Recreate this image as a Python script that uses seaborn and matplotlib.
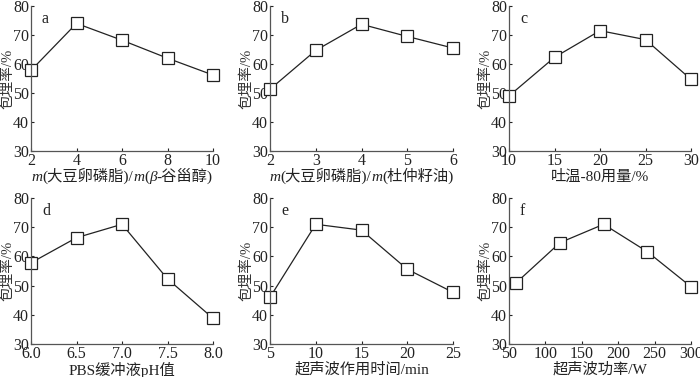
import matplotlib
matplotlib.use("Agg")
import matplotlib.pyplot as plt
import seaborn as sns
import pandas as pd
from matplotlib.offsetbox import TextArea, HPacker, AnchoredOffsetbox

sns.set_style("ticks")
FAM = ['Liberation Serif', 'Noto Sans CJK SC']
plt.rcParams['font.family'] = FAM

# data
xa = [2, 4, 6, 8, 10]
ya = [57.8, 74.0, 68.2, 62.0, 56.2]
xb = [2, 3, 4, 5, 6]
yb = [51.3, 64.7, 73.7, 69.5, 65.5]
xc = [10, 15, 20, 25, 30]
yc = [49.0, 62.3, 71.5, 68.4, 54.7]
xd = [6.0, 6.5, 7.0, 7.5, 8.0]
yd = [57.8, 66.4, 71.0, 52.3, 38.8]
xe = [5, 10, 15, 20, 25]
ye = [46.0, 71.0, 69.0, 55.6, 47.7]
xf = [60, 120, 180, 240, 300]
yf = [51.0, 64.7, 71.0, 61.6, 49.6]

panel_letters = ['a', 'b', 'c', 'd', 'e', 'f']
xticks_list = [[2, 4, 6, 8, 10], [2, 3, 4, 5, 6], [10, 15, 20, 25, 30],
               [6.0, 6.5, 7.0, 7.5, 8.0], [5, 10, 15, 20, 25],
               [50, 100, 150, 200, 250, 300]]
xticklabels_list = [None, None, None, ['6.0', '6.5', '7.0', '7.5', '8.0'], None, None]
xlims = [(2, 10), (2, 6), (10, 30), (6.0, 8.0), (5, 25), (50, 300)]
yticks = [30, 40, 50, 60, 70, 80]
ylabel = '包埋率/%'
xlabels = [None, None, '吐温-80用量/%', 'PBS缓冲液pH值', '超声波作用时间/min', '超声波功率/W']

series = [(xa, ya), (xb, yb), (xc, yc), (xd, yd), (xe, ye), (xf, yf)]

fig = plt.figure(figsize=(7.0, 3.77), dpi=100)
W, H = 700.0, 377.0
lefts = [31, 270, 509]
rights = [213, 453, 691]
rows = [(6, 151), (198, 344)]

FS = 11.5
LFS = 10.5
ink = '#222222'
axes = []
for i, (x, y) in enumerate(series):
    r, c = divmod(i, 3)
    top, bot = rows[r]
    ax = fig.add_axes([lefts[c] / W, 1 - bot / H, (rights[c] - lefts[c]) / W, (bot - top) / H])
    df = pd.DataFrame({'x': x, 'y': y})
    sns.lineplot(data=df, x='x', y='y', ax=ax, color=ink, lw=0.9,
                 marker='s', markersize=8, markerfacecolor='white',
                 markeredgecolor=ink, markeredgewidth=0.9, clip_on=False)
    ax.set_xlim(*xlims[i])
    ax.set_ylim(30, 80)
    ax.set_xticks(xticks_list[i])
    if xticklabels_list[i] is not None:
        ax.set_xticklabels(xticklabels_list[i])
    ax.set_yticks(yticks)
    ax.tick_params(direction='in', length=2.5, width=0.8, labelsize=FS, colors=ink, pad=1.5)
    for s in ['top', 'right']:
        ax.spines[s].set_visible(False)
    for s in ['left', 'bottom']:
        ax.spines[s].set_color('#555555')
        ax.spines[s].set_linewidth(0.9)
    ax.set_ylabel(ylabel, fontsize=LFS, color='#333333', labelpad=-1, family=FAM)
    if xlabels[i] is not None:
        ax.set_xlabel(xlabels[i], fontsize=LFS + 0.5, color=ink, labelpad=0, family=FAM)
    else:
        ax.set_xlabel('')
    ax.text(0.06, 0.91, panel_letters[i], transform=ax.transAxes, fontsize=FS,
            color=ink, ha='left', va='center', family=FAM)
    axes.append(ax)

def rich_xlabel(ax, parts):
    boxes = []
    for txt, style in parts:
        boxes.append(TextArea(txt, textprops=dict(fontsize=LFS + 0.5, color=ink, family=FAM, style=style)))
    pack = HPacker(children=boxes, align='baseline', pad=0, sep=0)
    ab = AnchoredOffsetbox(loc='upper center', child=pack, frameon=False, pad=0, borderpad=0,
                           bbox_to_anchor=(0.5, -0.115), bbox_transform=ax.transAxes)
    ax.add_artist(ab)

rich_xlabel(axes[0], [('m', 'italic'), ('(大豆卵磷脂)/', 'normal'), ('m', 'italic'),
                      ('(', 'normal'), ('β', 'italic'), ('-谷甾醇)', 'normal')])
rich_xlabel(axes[1], [('m', 'italic'), ('(大豆卵磷脂)/', 'normal'), ('m', 'italic'),
                      ('(杜仲籽油)', 'normal')])

fig.savefig('out.png', dpi=100)
